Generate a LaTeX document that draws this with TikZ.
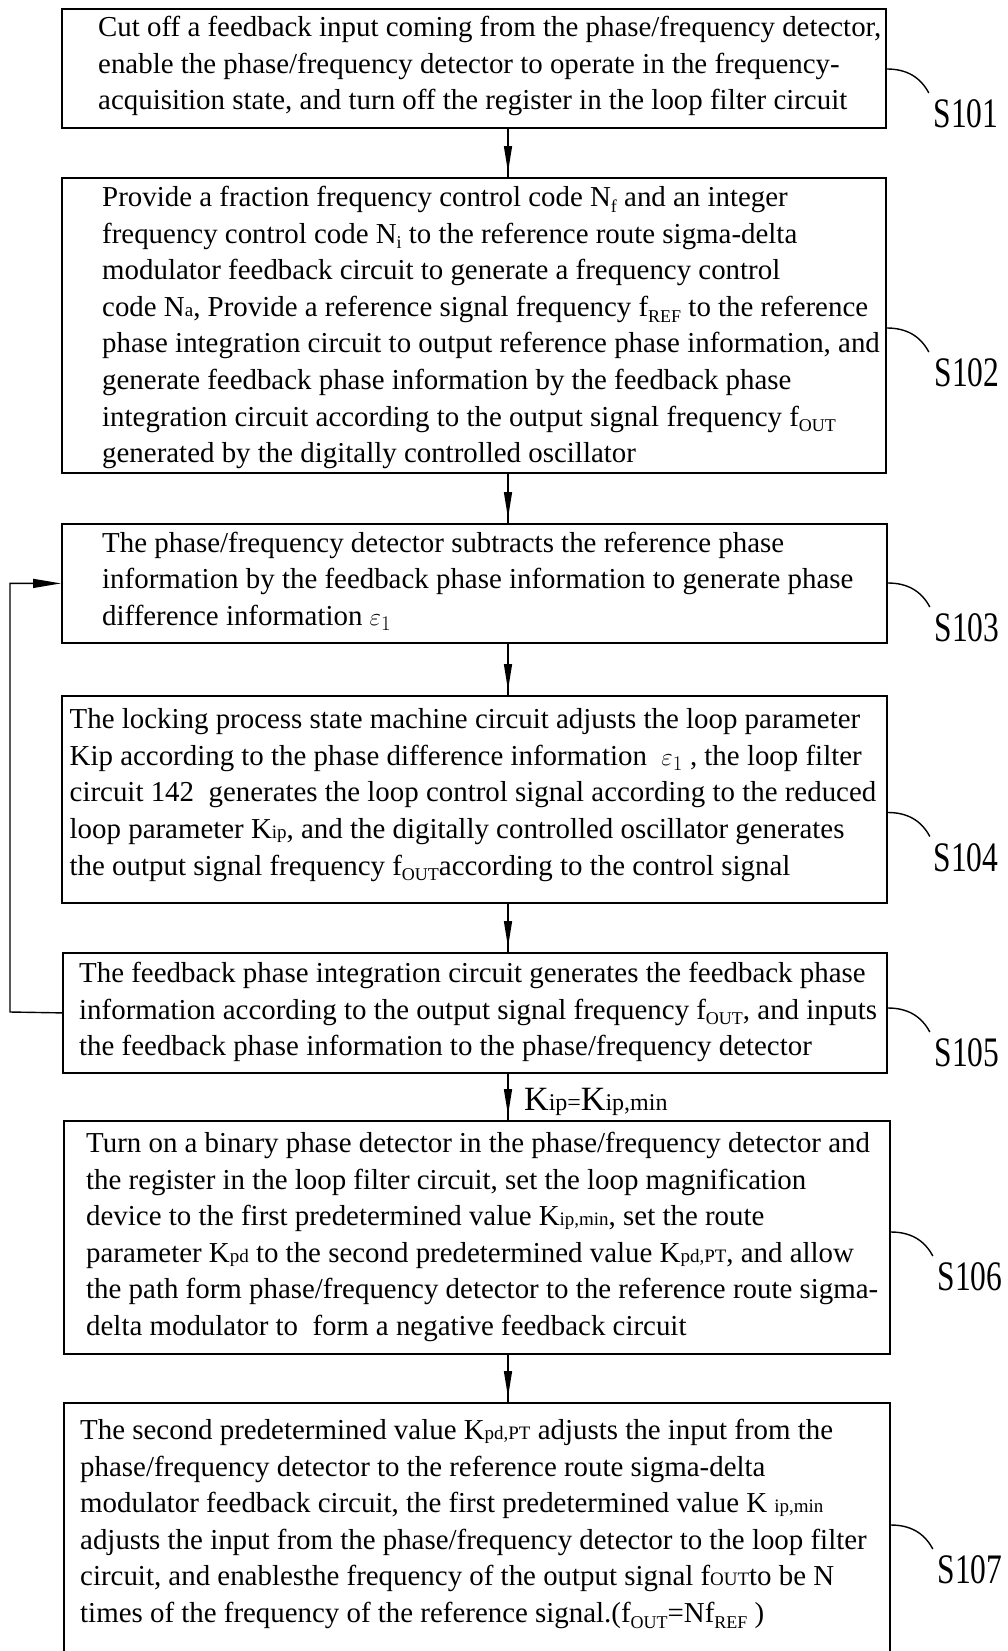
\documentclass[tikz,border=0pt]{standalone}
\usepackage{fontspec}
\setmainfont{Liberation Serif}
\usetikzlibrary{arrows.meta,calc,decorations.markings}

\newcommand{\mylow}[1]{\raisebox{-0.2em}{\fontsize{18}{18}\selectfont #1}}
\newcommand{\mysmall}[1]{{\fontsize{19}{19}\selectfont #1}}

\begin{document}
\begin{tikzpicture}[x=1pt,y=-1pt,
  stepbox/.style={draw, line width=1.8pt, inner sep=0pt, anchor=north west},
  steptext/.style={anchor=west, align=left, inner sep=0pt, font=\fontsize{28.9}{36.6}\selectfont},
  steplabel/.style={inner sep=0pt, font=\fontsize{42}{42}\selectfont},
  hookline/.style={line width=1.4pt},
  flowarrow/.style={line width=1.4pt, postaction={decorate},
    decoration={markings, mark=at position -5pt with {\arrow{Triangle[length=26pt,width=8pt]}}}},
  loopline/.style={line width=1.4pt, -{Triangle[length=28pt,width=9pt]}}
]
\useasboundingbox (0,0) rectangle (1007,1651);
\clip (0,0) rectangle (1007,1651);

% boxes
\node[stepbox, minimum width=824pt, minimum height=119pt] (s101) at (61,8) {};
\node[stepbox, minimum width=824pt, minimum height=295pt] (s102) at (61,177) {};
\node[stepbox, minimum width=825pt, minimum height=119pt] (s103) at (61,523) {};
\node[stepbox, minimum width=825pt, minimum height=207pt] (s104) at (61,695) {};
\node[stepbox, minimum width=824pt, minimum height=120pt] (s105) at (62,952) {};
\node[stepbox, minimum width=826pt, minimum height=233pt] (s106) at (63,1120) {};
\node[stepbox, minimum width=826pt, minimum height=262pt] (s107) at (63,1402) {};

% texts
\node[steptext] (t101) at (98,66) {Cut off a feedback input coming from the phase/frequency detector,\\
enable the phase/frequency detector to operate in the frequency-\\
acquisition state, and turn off the register in the loop filter circuit};

\node[steptext] (t102) at (102,327.5) {Provide a fraction frequency control code N\mylow{f} and an integer\\
frequency control code N\mylow{i} to the reference route sigma-delta\\
modulator feedback circuit to generate a frequency control\\
code N\mysmall{a}, Provide a reference signal frequency f\mylow{REF} to the reference\\
phase integration circuit to output reference phase information, and\\
generate feedback phase information by the feedback phase\\
integration circuit according to the output signal frequency f\mylow{OUT}\\
generated by the digitally controlled oscillator};

\node[steptext] (t103) at (102,581) {The phase/frequency detector subtracts the reference phase\\
information by the feedback phase information to generate phase\\
difference information $\varepsilon_1$};

\node[steptext] (t104) at (69.5,795) {The locking process state machine circuit adjusts the loop parameter\\
Kip according to the phase difference information~ $\varepsilon_1$ , the loop filter\\
circuit 142~ generates the loop control signal according to the reduced\\
loop parameter K\mysmall{ip}, and the digitally controlled oscillator generates\\
the output signal frequency f\mylow{OUT}according to the control signal};

\node[steptext] (t105) at (79,1012) {The feedback phase integration circuit generates the feedback phase\\
information according to the output signal frequency f\mylow{OUT}, and inputs\\
the feedback phase information to the phase/frequency detector};

\node[steptext] (t106) at (86,1237) {Turn on a binary phase detector in the phase/frequency detector and\\
the register in the loop filter circuit, set the loop magnification\\
device to the first predetermined value K\mysmall{ip,min}, set the route\\
parameter K\mysmall{pd} to the second predetermined value K\mysmall{pd,PT}, and allow\\
the path form phase/frequency detector to the reference route sigma-\\
delta modulator to~ form a negative feedback circuit};

\node[steptext] (t107) at (80,1524) {The second predetermined value K\mysmall{pd,PT} adjusts the input from the\\
phase/frequency detector to the reference route sigma-delta\\
modulator feedback circuit, the first predetermined value K \mysmall{ip,min}\\
adjusts the input from the phase/frequency detector to the loop filter\\
circuit, and enablesthe frequency of the output signal f\mysmall{OUT}to be N\\
times of the frequency of the reference signal.(f\mylow{OUT}=Nf\mylow{REF} )};

% step labels
\node[steplabel] (l101) at (966,114) {\scalebox{0.75}[1]{S101}};
\node[steplabel] (l102) at (967,373) {\scalebox{0.75}[1]{S102}};
\node[steplabel] (l103) at (967,628) {\scalebox{0.75}[1]{S103}};
\node[steplabel] (l104) at (966,857.5) {\scalebox{0.75}[1]{S104}};
\node[steplabel] (l105) at (967,1053) {\scalebox{0.75}[1]{S105}};
\node[steplabel] (l106) at (970,1277) {\scalebox{0.75}[1]{S106}};
\node[steplabel] (l107) at (970,1570) {\scalebox{0.75}[1]{S107}};

% hooks
\foreach \n in {101,102,103,104,105,106,107}{
  \draw[hookline] ($(s\n.east |- l\n.center)+(0,-45)$) to[out=0,in=118] ($(s\n.east |- l\n.center)+(42,-21)$);
}

% flow arrows
\coordinate (ax) at (508,0);
\draw[flowarrow] (ax |- s101.south) -- (ax |- s102.north);
\draw[flowarrow] (ax |- s102.south) -- (ax |- s103.north);
\draw[flowarrow] (ax |- s103.south) -- (ax |- s104.north);
\draw[flowarrow] (ax |- s104.south) -- (ax |- s105.north);
\draw[flowarrow] (ax |- s105.south) -- (ax |- s106.north);
\draw[flowarrow] (ax |- s106.south) -- (ax |- s107.north);

\node[anchor=base west, inner sep=0pt, font=\fontsize{34}{36}\selectfont] (kcond) at (524,1110) {K{\fontsize{24}{24}\selectfont ip=}K{\fontsize{24}{24}\selectfont ip,min}};

% feedback loop
\coordinate (fb) at (10,1012);
\draw[loopline] (s105.west) -- (fb) |- (s103.west);
\end{tikzpicture}
\end{document}
